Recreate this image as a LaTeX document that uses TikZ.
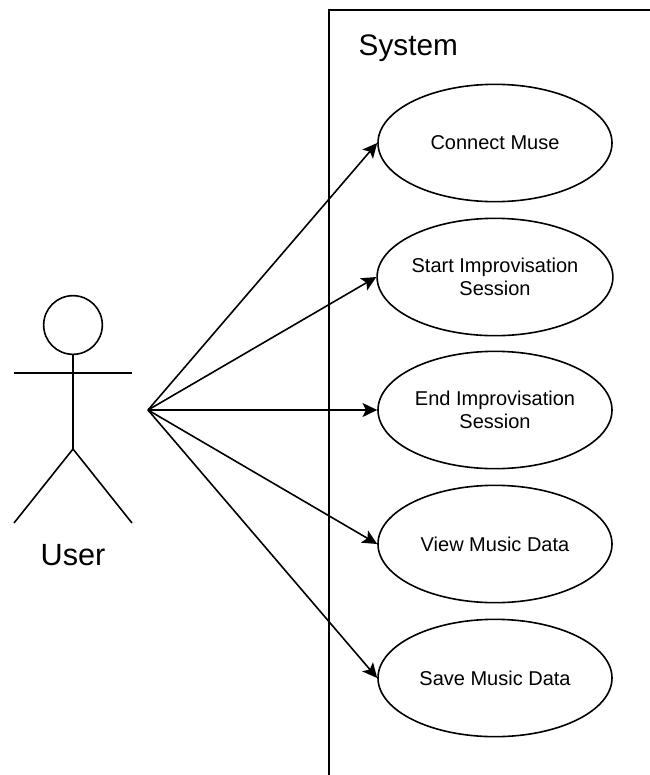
\documentclass[tikz,border=0pt]{standalone}
\usepackage{fontspec}
\setmainfont{Liberation Sans}
\usetikzlibrary{shapes.geometric,arrows.meta}
\tikzset{
  usecase/.style={draw=black,line width=1.2pt,ellipse,minimum width=175.5pt,minimum height=88pt,inner sep=0pt,align=center,font=\fontsize{15pt}{17.25pt}\selectfont},
  lineb/.style={draw=black,line width=1.2pt},
  assoc/.style={lineb,-{Stealth[length=11pt,width=10.5pt,inset=2.5pt]}},
}
\begin{document}
\begin{tikzpicture}[x=0.75pt,y=-0.75pt]
\useasboundingbox (0,0) rectangle (650,775);
\coordinate (bl) at (329,775);
\coordinate (tl) at (329,10);
\coordinate (tr) at (650,10);
\draw[lineb] (bl) -- (tl) -- (tr);
\node[anchor=west,font=\fontsize{22.3pt}{26pt}\selectfont] (sys) at (354,48) {System};
\node[usecase] (c1) at (495,143) {Connect Muse};
\node[usecase] (c2) at (495,277) {Start Improvisation\\Session};
\node[usecase] (c3) at (495,410) {End Improvisation\\Session};
\node[usecase] (c4) at (495,544) {View Music Data};
\node[usecase] (c5) at (495,678) {Save Music Data};
\coordinate (src) at (148,410);
\node[draw=black,line width=1.2pt,circle,minimum size=44pt,inner sep=0pt] (head) at (73,325) {};
\coordinate (hip) at (73,449);
\coordinate (la) at (14,373);
\coordinate (ra) at (132,373);
\coordinate (lf) at (14,523);
\coordinate (rf) at (132,523);
\draw[lineb] (head.south) -- (hip);
\draw[lineb] (la) -- (ra);
\draw[lineb] (lf) -- (hip) -- (rf);
\node[font=\fontsize{23pt}{27pt}\selectfont] (user) at (73,555) {User};
\draw[assoc] (src) -- (c1.west);
\draw[assoc] (src) -- (c2.west);
\draw[assoc] (src) -- (c3.west);
\draw[assoc] (src) -- (c4.west);
\draw[assoc] (src) -- (c5.west);
\end{tikzpicture}
\end{document}
